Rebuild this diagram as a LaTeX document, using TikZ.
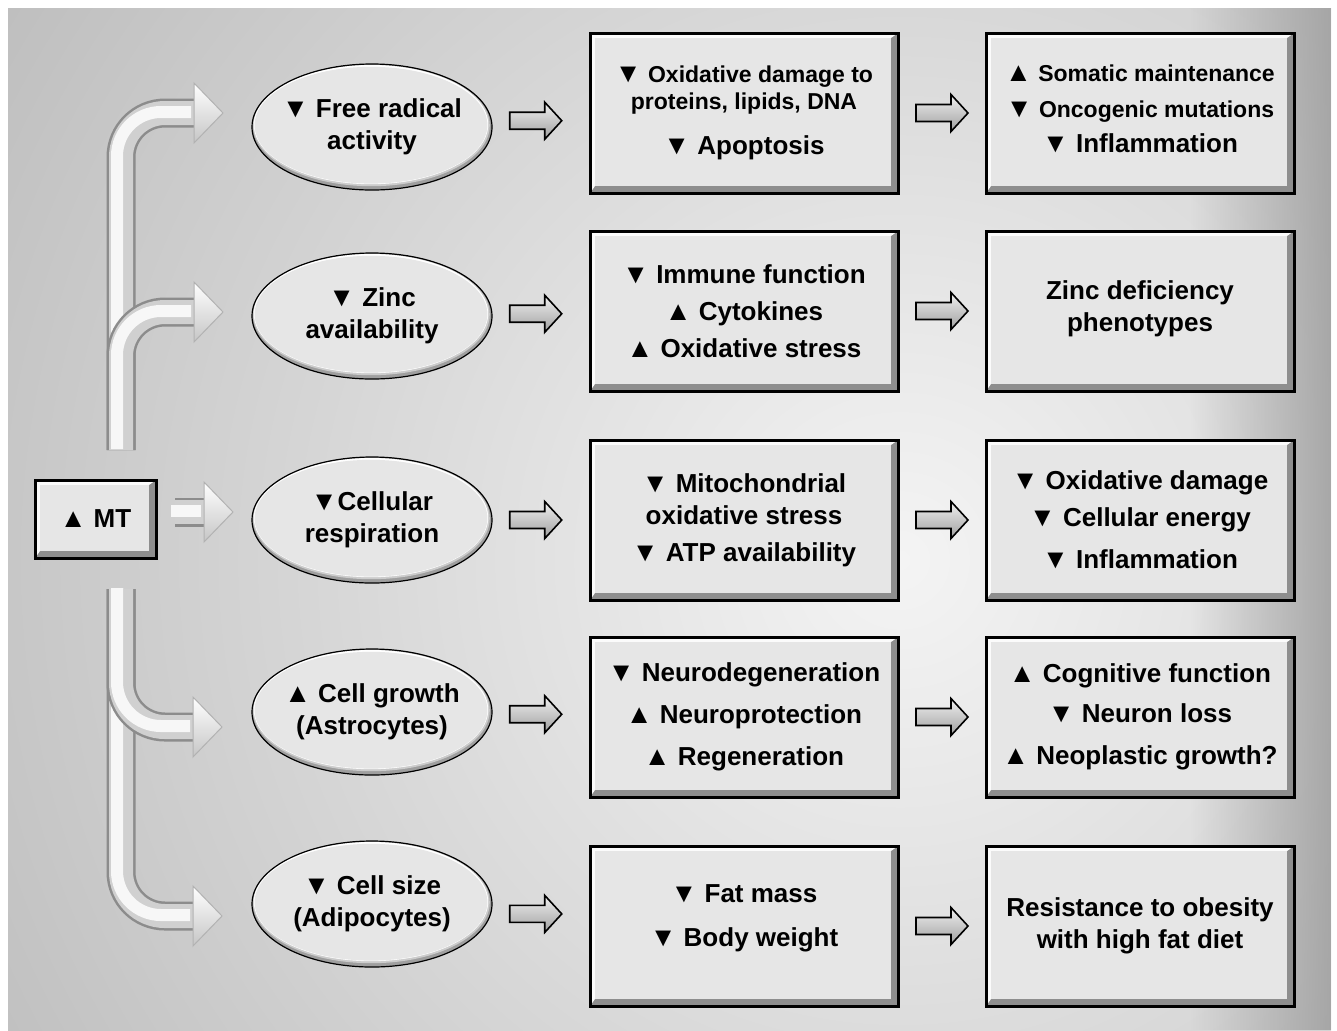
\documentclass[tikz,border=0pt]{standalone}
\usepackage{fontspec}
\setmainfont{Liberation Sans}
\usetikzlibrary{calc,positioning,shapes.geometric,fadings}
\definecolor{BgLight}{HTML}{F4F4F4}
\definecolor{BgDark}{HTML}{9E9E9E}
\definecolor{BoxFace}{HTML}{E6E6E6}
\definecolor{BevelDark}{HTML}{8E8E8E}
\definecolor{BevelLight}{HTML}{FBFBFB}
\definecolor{PipeEdge}{HTML}{8C8C8C}
\definecolor{PipeMid}{HTML}{D0D0D0}
\definecolor{PipeHi}{HTML}{F7F7F7}
\tikzfading[name=fadeRight, left color=transparent!100, right color=transparent!0]
\newcommand{\TriUp}{{\fontsize{13.5}{13.5}\selectfont ▲}}
\newcommand{\TriDn}{{\fontsize{13.5}{13.5}\selectfont ▼}}
\newcommand{\smallfont}{\fontsize{11.5}{13.5}\selectfont}
\tikzset{
  resbox/.style={draw=black, line width=1.5pt, fill=BevelDark, minimum width=154pt,
    minimum height=80pt, inner sep=0pt, align=center,
    font=\fontsize{13}{18.5}\selectfont\bfseries,
    path picture={
      \fill[BevelLight] (path picture bounding box.south west)
        -- (path picture bounding box.north west) -- (path picture bounding box.north east)
        -- ([shift={(-3.5pt,-2.5pt)}]path picture bounding box.north east)
        -- ([shift={(2.5pt,-2.5pt)}]path picture bounding box.north west)
        -- ([shift={(2.5pt,3.5pt)}]path picture bounding box.south west) -- cycle;
      \fill[BoxFace] ([shift={(2.5pt,3.5pt)}]path picture bounding box.south west)
        rectangle ([shift={(-3.5pt,-2.5pt)}]path picture bounding box.north east);
    }},
  ellnode/.style={ellipse, draw=black, line width=0.6pt,
    minimum width=120pt, minimum height=63pt, inner xsep=-8pt, inner ysep=0pt,
    align=center, font=\fontsize{13}{16}\selectfont\bfseries,
    path picture={
      \fill[gray!75] (path picture bounding box.south west)
        rectangle (path picture bounding box.north east);
      \fill[gray!40] ([shift={(-0.3pt,0.8pt)}]path picture bounding box.center)
        ellipse [x radius=59.2pt, y radius=30.4pt];
      \fill[white] ([shift={(-0.5pt,1.2pt)}]path picture bounding box.center)
        ellipse [x radius=58.6pt, y radius=29.8pt];
      \fill[BoxFace] ([shift={(-0.5pt,0.9pt)}]path picture bounding box.center)
        ellipse [x radius=58.2pt, y radius=29.2pt];
    }},
  pipeedge/.style={line width=14.5pt, draw=PipeEdge, rounded corners=22pt},
  pipemid/.style={line width=12pt, draw=PipeMid, rounded corners=22pt},
  pipehi/.style={line width=6pt, draw=PipeHi, rounded corners=22pt,
    transform canvas={shift={(-2pt,0.5pt)}}},
  pipehead/.style={top color=white, bottom color=gray!45, draw=gray!60, line width=0.5pt},
  blockfill/.style={top color=gray!12, bottom color=gray!75, draw=black, line width=0.8pt},
}
% small block arrow between two nodes
\newcommand{\blockarr}[3][0.5]{%
  \shadedraw[blockfill] ($(#2.east)!#1!(#3.west)$) ++(-13pt,4.25pt) -- ++(17.5pt,0)
    -- ++(0,5pt) -- ++(8.5pt,-9.25pt) -- ++(-8.5pt,-9.25pt) -- ++(0,5pt)
    -- ++(-17.5pt,0) -- cycle;}

\begin{document}
\begin{tikzpicture}[x=0.5pt,y=-0.5pt]
  \useasboundingbox (0,0) rectangle (1337,1030);
  % --- background ---
  \fill[white] (0,0) rectangle (1337,1030);
  \begin{scope}
    \clip (8,8) rectangle (1331,1030);
    \fill[BgDark] (8,8) rectangle (1331,1030);
    \shade[inner color=BgLight, outer color=BgDark] (900,560) circle (1700);
    \fill[BgDark, opacity=0.85, path fading=fadeRight] (1190,8) rectangle (1331,1030);
  \end{scope}

  % --- source ---
  \node[resbox, minimum width=60.5pt, minimum height=39pt] (mt) at (95.5,519) {\TriUp\ MT};

  % --- first level: ellipses ---
  \node[ellnode] (el1) at (372,127) {\TriDn\ Free radical\\activity};
  \node[ellnode] (el2) at (372,316) {\TriDn\ Zinc\\availability};
  \node[ellnode] (el3) at (372,520) {\TriDn Cellular\\respiration};
  \node[ellnode] (el4) at (372,712) {\TriUp\ Cell growth\\(Astrocytes)};
  \node[ellnode] (el5) at (372,904) {\TriDn\ Cell size\\(Adipocytes)};

  % --- second level ---
  \node[resbox] (mb1) at (744,113)
    {\smallfont\TriDn\ Oxidative damage to\\[-5pt]\smallfont proteins, lipids, DNA\\[4pt]\TriDn\ Apoptosis};
  \node[resbox] (mb2) at (744,311)
    {\TriDn\ Immune function\\\TriUp\ Cytokines\\\TriUp\ Oxidative stress};
  \node[resbox] (mb3) at (744,520)
    {\TriDn\ Mitochondrial\\[-2.5pt]oxidative stress\\\TriDn\ ATP availability};
  \node[resbox] (mb4) at (744,717)
    {\TriDn\ Neurodegeneration\\[2.5pt]\TriUp\ Neuroprotection\\[2.5pt]\TriUp\ Regeneration};
  \node[resbox, text depth=10.5pt] (mb5) at (744,926)
    {\TriDn\ Fat mass\\[3.5pt]\TriDn\ Body weight};

  % --- third level ---
  \node[resbox, right=42.5pt of mb1, text depth=4.5pt] (rb1)
    {\smallfont\TriUp\ Somatic maintenance\\[-0.5pt]\smallfont\TriDn\ Oncogenic mutations\\[-1pt]\TriDn\ Inflammation};
  \node[resbox, right=42.5pt of mb2, text depth=5pt] (rb2) {Zinc deficiency\\[-2.5pt]phenotypes};
  \node[resbox, right=42.5pt of mb3] (rb3)
    {\TriDn\ Oxidative damage\\\TriDn\ Cellular energy\\[2.5pt]\TriDn\ Inflammation};
  \node[resbox, right=42.5pt of mb4] (rb4)
    {\TriUp\ Cognitive function\\[1.5pt]\TriDn\ Neuron loss\\[2.5pt]\TriUp\ Neoplastic growth?};
  \node[resbox, right=42.5pt of mb5] (rb5) {Resistance to obesity\\[-2.5pt]with high fat diet};

  % --- small arrows ---
  \blockarr[0.45]{el1}{mb1} \blockarr{mb1}{rb1}
  \blockarr[0.45]{el2}{mb2} \blockarr{mb2}{rb2}
  \blockarr[0.45]{el3}{mb3} \blockarr{mb3}{rb3}
  \blockarr[0.45]{el4}{mb4} \blockarr{mb4}{rb4}
  \blockarr[0.45]{el5}{mb5} \blockarr{mb5}{rb5}

  % --- tubes from MT ---
  \coordinate (pu) at (121,450);
  \coordinate (pd) at (121,589);
  \coordinate (ps) at (175,512);
  \coordinate (tp1) at (223,113);
  \coordinate (tp2) at (223,312);
  \coordinate (tp3) at (233,512);
  \coordinate (tp4) at (222,727);
  \coordinate (tp5) at (222,916);
  \foreach \lay in {pipeedge,pipemid,pipehi}
    \draw[\lay] (pu) |- ([xshift=-14pt]tp1);
  \foreach \lay in {pipeedge,pipemid,pipehi}
    \draw[\lay] (pu) |- ([xshift=-14pt]tp2);
  \foreach \lay in {pipeedge,pipemid,pipehi}
    \draw[\lay] (ps) -- ([xshift=-14pt]tp3);
  \foreach \lay in {pipeedge,pipemid,pipehi}
    \draw[\lay] (pd) |- ([xshift=-14pt]tp5);
  \foreach \lay in {pipeedge,pipemid,pipehi}
    \draw[\lay] (pd) |- ([xshift=-14pt]tp4);
  \foreach \tip in {tp1,tp2,tp3,tp4,tp5}
    \shadedraw[pipehead] (\tip) -- ++(-14.5pt,15pt) -- ++(0,-30pt) -- cycle;
\end{tikzpicture}
\end{document}
